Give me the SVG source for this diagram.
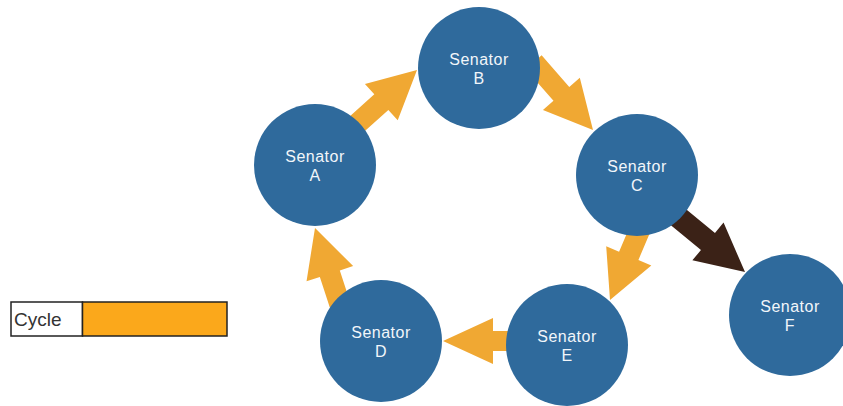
<svg xmlns="http://www.w3.org/2000/svg" width="843" height="406" viewBox="0 0 843 406">
<style>
.node circle{fill:#2F6A9C}
.node text{fill:#F2F6FA;font-family:"Liberation Sans",Arial,sans-serif;font-size:16px;letter-spacing:0.5px;text-anchor:middle}
.cyc{fill:#F0A833}
.out{fill:#3B2217}
.legtext{font-family:"Liberation Sans",Arial,sans-serif;font-size:19px;fill:#333}
</style>
<rect width="843" height="406" fill="#fff"/>
<g id="connectors">
<polygon class="cyc" transform="translate(417,70) rotate(-42)" points="0,0 -48,-24.5 -48,-10.5 -95,-10.5 -95,10.5 -48,10.5 -48,24.5"/>
<polygon class="cyc" transform="translate(593,130) rotate(48.8)" points="0,0 -48,-24.5 -48,-10.5 -90,-10.5 -90,10.5 -48,10.5 -48,24.5"/>
<polygon class="out" transform="translate(745,272) rotate(39.5)" points="0,0 -48,-24.5 -48,-11 -100,-11 -100,11 -48,11 -48,24.5"/>
<polygon class="cyc" transform="translate(610,300) rotate(113)" points="0,0 -48,-24.5 -48,-10.5 -80,-10.5 -80,10.5 -48,10.5 -48,24.5"/>
<polygon class="cyc" transform="translate(443,341) rotate(180)" points="0,0 -50,-23 -50,-10 -75,-10 -75,10 -50,10 -50,23"/>
<polygon class="cyc" transform="translate(315,228) rotate(-108)" points="0,0 -48,-24.5 -48,-10.5 -80,-10.5 -80,10.5 -48,10.5 -48,24.5"/>
</g>
<g id="senA" class="node"><circle cx="315" cy="165" r="61"/><text x="315" y="162">Senator</text><text x="315" y="181">A</text></g>
<g id="senB" class="node"><circle cx="479" cy="68" r="61"/><text x="479" y="65">Senator</text><text x="479" y="84">B</text></g>
<g id="senC" class="node"><circle cx="637" cy="175" r="61"/><text x="637" y="172">Senator</text><text x="637" y="191">C</text></g>
<g id="senD" class="node"><circle cx="381" cy="341" r="61"/><text x="381" y="338">Senator</text><text x="381" y="357">D</text></g>
<g id="senE" class="node"><circle cx="567" cy="345" r="61"/><text x="567" y="342">Senator</text><text x="567" y="361">E</text></g>
<g id="senF" class="node"><circle cx="790" cy="315" r="61"/><text x="790" y="312">Senator</text><text x="790" y="331">F</text></g>
<g id="legend">
<rect x="11" y="302" width="71.5" height="34" fill="#fff" stroke="#222" stroke-width="1.5"/>
<rect x="82.5" y="302" width="144.5" height="34" fill="#FBA81B" stroke="#222" stroke-width="1.5"/>
<text class="legtext" x="14" y="326">Cycle</text>
</g>
</svg>
